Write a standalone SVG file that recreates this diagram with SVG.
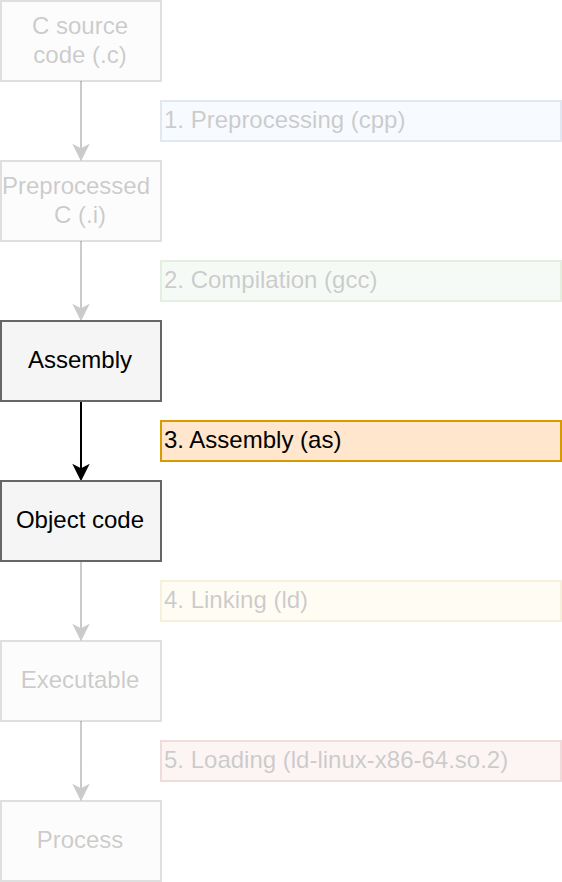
<svg xmlns="http://www.w3.org/2000/svg" width="562" height="882" viewBox="0 0 562 882">
<style>
.n rect{fill:#f5f5f5;stroke:#666666;stroke-width:2}
.s rect{stroke-width:2}
.t{font-family:"Liberation Sans",Arial,sans-serif;font-size:24px;fill:#000000}
.c{text-anchor:middle}
.f{opacity:0.2}
.e{stroke:#000000;stroke-width:2;fill:none}
.h{fill:#000000;stroke:#000000;stroke-width:2;stroke-linejoin:miter}
</style>
<rect width="562" height="882" fill="#ffffff"/>
<g id="connectors">
  <g class="f"><path class="e" d="M81,81 V150"/><path class="h" d="M81,159 L74.5,146 L81,149.3 L87.5,146 Z"/></g>
  <g class="f"><path class="e" d="M81,241 V310"/><path class="h" d="M81,319 L74.5,306 L81,309.3 L87.5,306 Z"/></g>
  <g><path class="e" d="M81,401 V470"/><path class="h" d="M81,479 L74.5,466 L81,469.3 L87.5,466 Z"/></g>
  <g class="f"><path class="e" d="M81,561 V630"/><path class="h" d="M81,639 L74.5,626 L81,629.3 L87.5,626 Z"/></g>
  <g class="f"><path class="e" d="M81,721 V790"/><path class="h" d="M81,799 L74.5,786 L81,789.3 L87.5,786 Z"/></g>
</g>
<g id="src" class="n f"><rect x="1" y="1" width="160" height="80"/><text class="t c" x="80" y="34">C source</text><text class="t c" x="80" y="63">code (.c)</text></g>
<g id="pre" class="n f"><rect x="1" y="161" width="160" height="80"/><text class="t c" x="76" y="194">Preprocessed</text><text class="t c" x="80" y="223">C (.i)</text></g>
<g id="asm" class="n"><rect x="1" y="321" width="160" height="80"/><text class="t c" x="80" y="368">Assembly</text></g>
<g id="obj" class="n"><rect x="1" y="481" width="160" height="80"/><text class="t c" x="80" y="528">Object code</text></g>
<g id="exe" class="n f"><rect x="1" y="641" width="160" height="80"/><text class="t c" x="80" y="688">Executable</text></g>
<g id="proc" class="n f"><rect x="1" y="801" width="160" height="80"/><text class="t c" x="80" y="848">Process</text></g>
<g id="step1" class="s f"><rect x="161" y="101" width="400" height="40" fill="#dae8fc" stroke="#6c8ebf"/><text class="t" x="164" y="128">1. Preprocessing (cpp)</text></g>
<g id="step2" class="s f"><rect x="161" y="261" width="400" height="40" fill="#d5e8d4" stroke="#82b366"/><text class="t" x="164" y="288">2. Compilation (gcc)</text></g>
<g id="step3" class="s"><rect x="161" y="421" width="400" height="40" fill="#ffe6cc" stroke="#d79b00"/><text class="t" x="164" y="448">3. Assembly (as)</text></g>
<g id="step4" class="s f"><rect x="161" y="581" width="400" height="40" fill="#fff2cc" stroke="#d6b656"/><text class="t" x="164" y="608">4. Linking (ld)</text></g>
<g id="step5" class="s f"><rect x="161" y="741" width="400" height="40" fill="#f8cecc" stroke="#b85450"/><text class="t" x="164" y="768">5. Loading (ld-linux-x86-64.so.2)</text></g>
</svg>
